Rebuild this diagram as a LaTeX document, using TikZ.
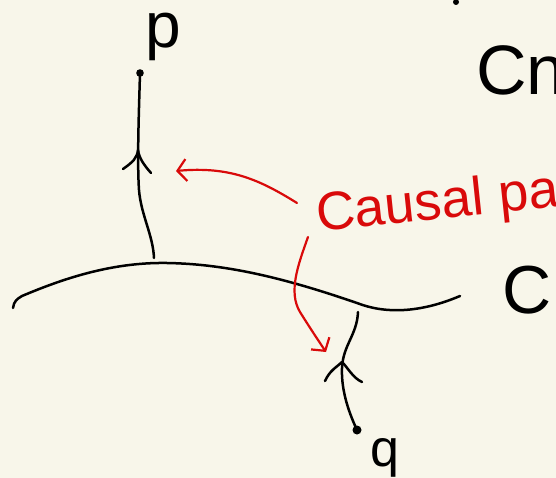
\documentclass[tikz,border=0pt]{standalone}
\usepackage{fontspec}
\setmainfont{Liberation Sans}
\usetikzlibrary{arrows.meta,positioning}
\definecolor{paper}{HTML}{F8F6EA}
\definecolor{inkred}{HTML}{D90A0A}

\begin{document}
\begin{tikzpicture}[
    x=1pt, y=-1pt,
    % Estilos
    ink/.style={line width=2.5pt, line cap=round, line join=round},
    redink/.style={ink, line width=2.2pt, draw=inkred},
    pointer/.style={redink, -{Straight Barb[length=9pt, width=22pt, line width=2.2pt]}},
    hand/.style={inner sep=0pt, font=\fontsize{#1}{#1}\selectfont},
    hand/.default=50
  ]

  % Fondo y marco
  \fill[paper] (0,0) rectangle (556,478);
  \useasboundingbox (0,0) rectangle (556,478);
  \clip (0,0) rectangle (556,478);

  % Puntos y extremos
  \coordinate (p) at (140,73);
  \coordinate (q) at (357,430);
  \coordinate (pfoot) at (154,258);
  \coordinate (qtop) at (358,312);
  \coordinate (r1s) at (297,203);
  \coordinate (r1e) at (176,171);
  \coordinate (r2s) at (308,237);
  \coordinate (r2e) at (326,352);

  % Textos
  \node[hand=64, anchor=base] (plabel) at (163,48) {p};
  \node[hand=52, anchor=base] (qlabel) at (385,466) {q};
  \node[hand=68] (clabel) at (527,290) {C};
  \node[hand=70, anchor=base west] (title) at (476,95) {Cno};
  \node[hand=54, text=inkred, anchor=base west, rotate=6] (causal) at (318,232) {Causal path};

  % Curva C
  \draw[ink] (13,308) .. controls (14,301) and (17,299) .. (22,296)
    .. controls (60,280) and (110,262) .. (167,263)
    .. controls (230,264) and (290,280) .. (357,303)
    .. controls (385,314) and (420,313) .. (460,296);

  % Camino hacia p
  \draw[ink] (pfoot) .. controls (153,235) and (141,215) .. (139,190)
    .. controls (137,160) and (139,110) .. (p);
  \draw[ink] (123,169) .. controls (133,162) and (137,158) .. (138,150)
    .. controls (139,158) and (144,165) .. (151,173);
  \fill (p) circle (3.8);

  % Camino desde q
  \draw[ink] (qtop) .. controls (357,335) and (343,345) .. (342,368)
    .. controls (341,392) and (350,415) .. (q);
  \draw[ink] (325,381) .. controls (330,370) and (337,367) .. (342,362)
    .. controls (348,368) and (353,378) .. (362,382);
  \fill (q) circle (4.5);

  % Flechas rojas
  \draw[pointer] (r1s) .. controls (260,180) and (230,166) .. (r1e);
  \draw[pointer] (r2s) .. controls (298,265) and (288,292) .. (300,312)
    .. controls (310,328) and (318,340) .. (r2e);

  % Marca arriba
  \fill (456,2) circle (3);
\end{tikzpicture}
\end{document}
